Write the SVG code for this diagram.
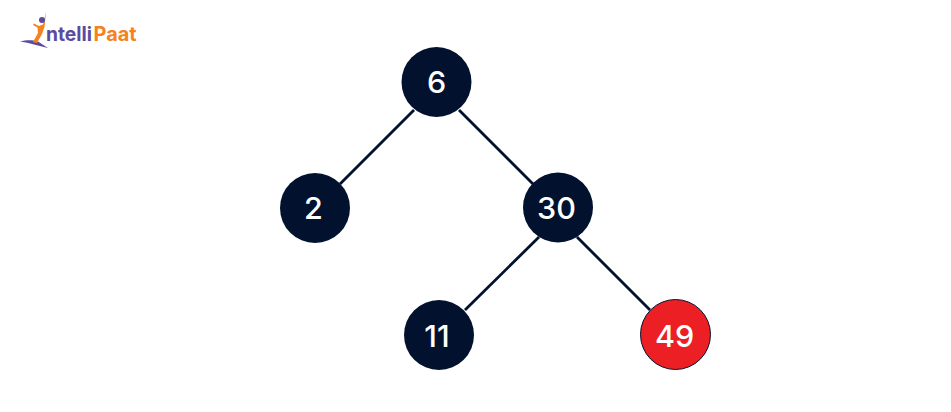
<svg xmlns="http://www.w3.org/2000/svg" width="951" height="412" viewBox="0 0 951 412">
<style>
.edge{stroke:#02122e;stroke-width:2.8;fill:none}
.dark{fill:#02122e}
.red{fill:#ec2024;stroke:#02122e;stroke-width:1}
.lbl{font-family:"Inter","Liberation Sans",sans-serif;font-size:30.500px;font-weight:500;fill:#fff;text-anchor:middle}
.logo{font-family:"Inter","Liberation Sans",sans-serif;font-size:19.500px;font-weight:700}
</style>
<rect width="951" height="412" fill="#fff"/>
<g id="logo">
<path d="M20 41.500C27 39.500 33 40 38 41.500L48 48C38 45.500 30 43 20 41.500Z" fill="#5b4b9f"/>
<path d="M46 12L44.500 27L42 34L37 43L33 42L38 33L37.500 27.500L33 25L34 23.500L39 26L43 24.500Z" fill="#f58220"/>
<circle cx="42" cy="20" r="3" fill="#5b4b9f"/>
<text class="logo" x="46" y="41" fill="#5b4b9f" textLength="46" lengthAdjust="spacingAndGlyphs">ntelli</text>
<text class="logo" x="93.500" y="41" fill="#f58220" textLength="43" lengthAdjust="spacingAndGlyphs">Paat</text>
</g>
<g id="connectors">
<line class="edge" x1="414" y1="110" x2="340" y2="184"/>
<line class="edge" x1="459" y1="110" x2="533" y2="184"/>
<line class="edge" x1="539" y1="237" x2="465" y2="310"/>
<line class="edge" x1="577" y1="237" x2="650" y2="310"/>
</g>
<g id="node-6"><circle class="dark" cx="436.500" cy="82" r="35"/><text class="lbl" x="436.500" y="93">6</text></g>
<g id="node-2"><circle class="dark" cx="315" cy="208" r="35"/><text class="lbl" x="313.500" y="219">2</text></g>
<g id="node-30"><circle class="dark" cx="558" cy="207.500" r="35"/><text class="lbl" x="556.500" y="219">30</text></g>
<g id="node-11"><circle class="dark" cx="439" cy="335" r="35"/><text class="lbl" x="437" y="347">11</text></g>
<g id="node-49"><circle class="red" cx="675.500" cy="334.500" r="35"/><text class="lbl" x="674.500" y="347">49</text></g>
</svg>
